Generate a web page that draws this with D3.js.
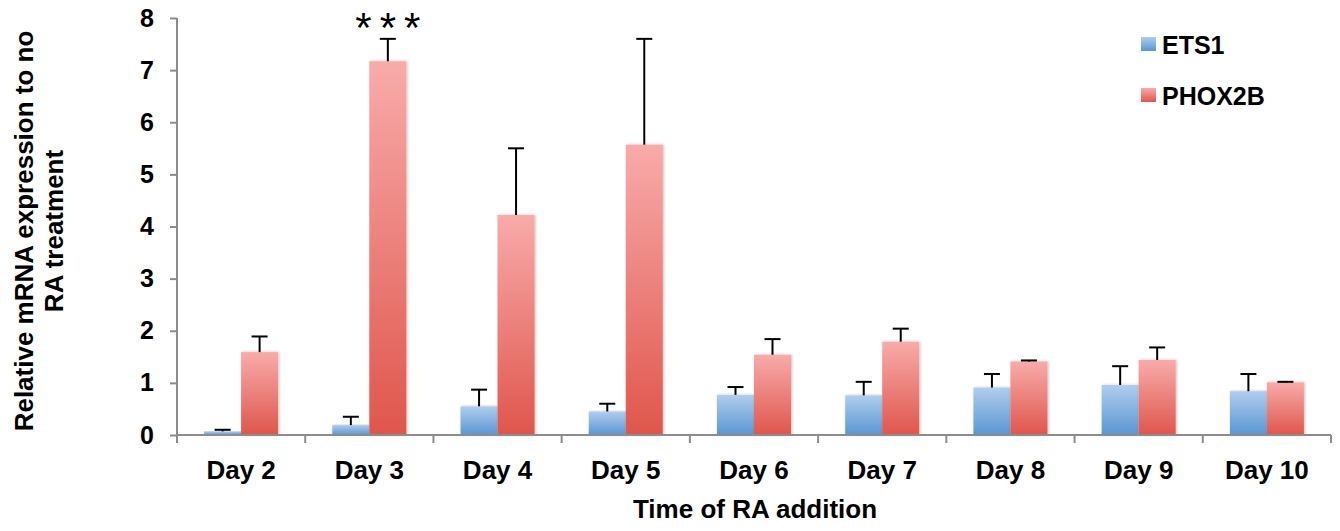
<!DOCTYPE html>
<html>
<head>
<meta charset="utf-8">
<script src="https://cdn.jsdelivr.net/npm/d3@7"></script>
<style>
body { margin: 0; background: #fff; }
text { font-family: "Liberation Sans", Arial, sans-serif; font-weight: bold; }
</style>
</head>
<body>
<div id="chart"></div>
<script>
var days = ['Day 2', 'Day 3', 'Day 4', 'Day 5', 'Day 6', 'Day 7', 'Day 8', 'Day 9', 'Day 10']
var seriesNames = ['ETS1', 'PHOX2B']
var ets1 = [0.07, 0.19, 0.55, 0.45, 0.77, 0.76, 0.91, 0.96, 0.84]
var ets1Err = [0.03, 0.16, 0.32, 0.15, 0.15, 0.26, 0.26, 0.36, 0.33]
var phox2b = [1.59, 7.17, 4.22, 5.57, 1.54, 1.79, 1.41, 1.44, 1.01]
var phox2bErr = [0.30, 0.43, 1.28, 2.03, 0.30, 0.25, 0.02, 0.24, 0.01]
var yTicks = [0, 1, 2, 3, 4, 5, 6, 7, 8]
var stars = [{ day: 'Day 3', series: 'PHOX2B', label: '***' }]

var W = 1340, H = 531,
	margins = {top: 18, right: 9, bottom: 96, left: 177},
	width = W - margins.left - margins.right,
	height = H - margins.top - margins.bottom

var svg = d3.select('#chart').append('svg')
	.attr('width', W)
	.attr('height', H)

var defs = svg.append('defs')
var grads = {
	ETS1: ['#b0cdee', '#5a96d2'],
	PHOX2B: ['#f8abaa', '#df564c']
}
seriesNames.forEach(function(s) {
	var g = defs.append('linearGradient')
		.attr('id', 'grad-' + s)
		.attr('x1', 0).attr('y1', 0).attr('x2', 0).attr('y2', 1)
	g.append('stop').attr('offset', 0).attr('stop-color', grads[s][0])
	g.append('stop').attr('offset', 1).attr('stop-color', grads[s][1])
})
var shadow = defs.append('filter').attr('id', 'shadow')
	.attr('x', '-20%').attr('y', '-5%').attr('width', '140%').attr('height', '110%')
shadow.append('feDropShadow')
	.attr('dx', 1).attr('dy', 0).attr('stdDeviation', 1.5)
	.attr('flood-color', '#000').attr('flood-opacity', 0.25)

var vis = svg.append('g')
	.attr('transform', 'translate(' + margins.left + ',' + margins.top + ')')

var x0 = d3.scaleBand().domain(days).range([0, width]).paddingInner(0).paddingOuter(0)
var x1 = d3.scaleBand().domain(seriesNames).range([0, 74])
var y = d3.scaleLinear().domain([0, 8]).range([height, 0])

var data = days.map(function(d, i) {
	return {
		day: d,
		vals: [
			{ s: 'ETS1', v: ets1[i], e: ets1Err[i] },
			{ s: 'PHOX2B', v: phox2b[i], e: phox2bErr[i] }
		]
	}
})

function barX(day, s) {
	return x0(day) + (x0.bandwidth() - 74) / 2 + x1(s)
}

var groups = vis.selectAll('.day').data(data).enter().append('g')

groups.selectAll('rect').data(function(d) {
	return d.vals.map(function(v) { return Object.assign({ day: d.day }, v) })
}).enter().append('rect')
	.attr('x', function(d) { return barX(d.day, d.s) })
	.attr('width', x1.bandwidth())
	.attr('y', function(d) { return y(d.v) })
	.attr('height', function(d) { return y(0) - y(d.v) })
	.attr('fill', function(d) { return 'url(#grad-' + d.s + ')' })
	.attr('filter', 'url(#shadow)')

// error bars (upper only)
groups.selectAll('g.err').data(function(d) {
	return d.vals.map(function(v) { return Object.assign({ day: d.day }, v) })
}).enter().append('g').each(function(d) {
	var cx = barX(d.day, d.s) + x1.bandwidth() / 2
	var g = d3.select(this)
	g.append('line')
		.attr('x1', cx).attr('x2', cx)
		.attr('y1', y(d.v)).attr('y2', y(d.v + d.e))
		.attr('stroke', '#000').attr('stroke-width', 2)
	g.append('line')
		.attr('x1', cx - 8).attr('x2', cx + 8)
		.attr('y1', y(d.v + d.e)).attr('y2', y(d.v + d.e))
		.attr('stroke', '#000').attr('stroke-width', 2)
})

// y axis
var yAxis = vis.append('g')
	.call(d3.axisLeft(y).tickValues(yTicks).tickSize(7).tickPadding(16).tickFormat(d3.format('d')))
yAxis.select('.domain').attr('stroke', '#8c8c8c').attr('stroke-width', 2)
	.attr('d', 'M0,0V' + (height + 6))
yAxis.selectAll('.tick line').attr('stroke', '#8c8c8c').attr('stroke-width', 2)
yAxis.selectAll('.tick text').attr('font-size', 25).attr('fill', '#000')
	.style('font-family', '"Liberation Sans", Arial, sans-serif').style('font-weight', 'bold')

// x axis
var xAxis = vis.append('g').attr('transform', 'translate(0,' + height + ')')
xAxis.append('line').attr('x1', 0).attr('x2', width).attr('y1', 0).attr('y2', 0)
	.attr('stroke', '#8c8c8c').attr('stroke-width', 2)
xAxis.selectAll('line.tk').data(days.concat(['end'])).enter().append('line')
	.attr('class', 'tk')
	.attr('x1', function(d, i) { return i < days.length ? x0(d) : width })
	.attr('x2', function(d, i) { return i < days.length ? x0(d) : width })
	.attr('y1', 0).attr('y2', 8)
	.attr('stroke', '#8c8c8c').attr('stroke-width', 2)
xAxis.selectAll('text').data(days).enter().append('text')
	.attr('x', function(d) { return x0(d) + x0.bandwidth() / 2 })
	.attr('y', 44)
	.attr('text-anchor', 'middle')
	.attr('font-size', 26)
	.text(function(d) { return d })

// axis titles
svg.append('text')
	.attr('x', 755)
	.attr('y', 518)
	.attr('text-anchor', 'middle')
	.attr('font-size', 26)
	.text('Time of RA addition')

var yt = svg.append('text')
	.attr('transform', 'translate(0,' + 231 + ') rotate(-90)')
	.attr('text-anchor', 'middle')
	.attr('font-size', 26)
yt.append('tspan').attr('x', 0).attr('y', 33).text('Relative mRNA expression to no')
yt.append('tspan').attr('x', 0).attr('y', 63).text('RA treatment')

// significance stars
stars.forEach(function(st) {
	var i = days.indexOf(st.day)
	var cx = barX(st.day, st.series) + x1.bandwidth() / 2
	vis.append('text')
		.attr('x', cx + 4)
		.attr('y', y(phox2b[i] + phox2bErr[i]) + 3)
		.attr('text-anchor', 'middle')
		.attr('font-size', 42)
		.style('font-weight', 'normal')
		.style('letter-spacing', '8px')
		.text(st.label)
})

// legend
var legend = svg.append('g').attr('transform', 'translate(1141,37)')
seriesNames.forEach(function(s, i) {
	var g = legend.append('g').attr('transform', 'translate(0,' + i * 51 + ')')
	g.append('rect').attr('width', 15).attr('height', 14).attr('fill', 'url(#grad-' + s + ')')
	g.append('text').attr('x', 21).attr('y', 17).attr('font-size', 25).text(s)
})
</script>
</body>
</html>
